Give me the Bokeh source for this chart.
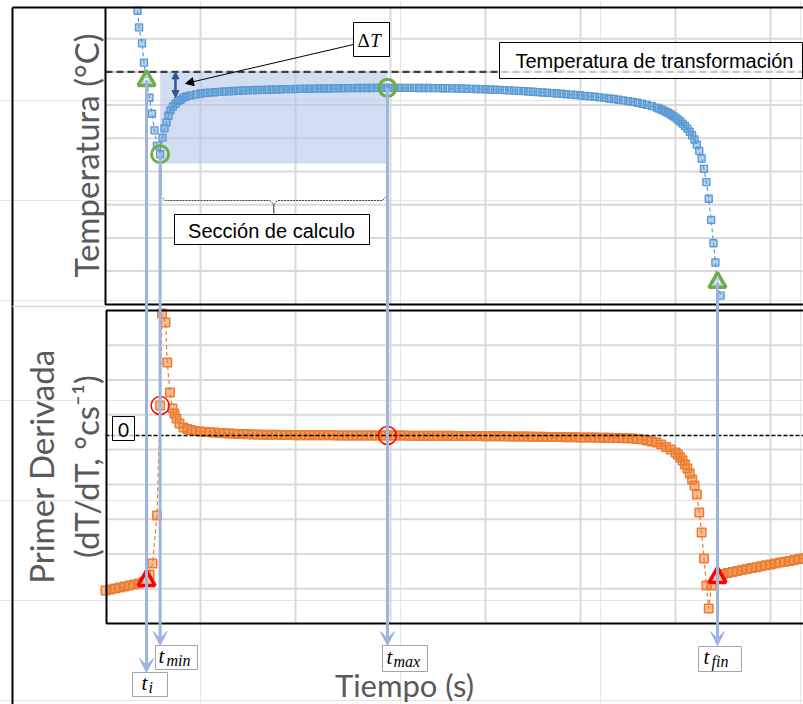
from math import pi
from bokeh.plotting import figure
from bokeh.models import Range1d, Label, Arrow, VeeHead, NormalHead
from bokeh.embed import file_html
from bokeh.resources import INLINE

# ---------------- data ----------------
tiempo_T = [3.37, 3.53, 3.84, 4.05, 4.32, 4.63, 4.89, 5.16, 5.42, 5.75,
            6.0, 6.21, 6.42, 6.63, 6.84, 7.1, 7.37, 7.63, 7.9, 8.2, 8.5, 8.95, 9.5,
            10.0, 10.5, 11.0, 11.5, 12.0, 12.5, 13.0, 13.5, 14.0, 14.5, 15.0, 15.5,
            16.0, 16.5, 17.0, 17.5, 18.0, 18.5, 19.0, 19.5, 20.0, 20.5, 21.0, 21.5,
            22.0, 22.5, 23.0, 23.5, 24.0, 24.5, 25.0, 25.5, 26.0, 26.5, 27.0, 27.5,
            28.0, 28.5, 29.0, 29.5, 30.0, 30.5, 31.0, 31.5, 32.0, 32.5, 33.0, 33.5,
            34.0, 34.5, 35.0, 35.5, 36.0, 36.5, 37.0, 37.5, 38.0, 38.5, 39.0, 39.5,
            40.0, 40.5, 41.0, 41.5, 42.0, 42.5, 43.0, 43.5, 44.0, 44.5, 45.0, 45.5,
            46.0, 46.5, 47.0, 47.5, 48.0, 48.5, 49.0, 49.5, 50.0, 50.5, 51.0, 51.5,
            52.0, 52.5, 53.0, 53.5, 54.0, 54.5, 55.0, 55.5, 56.0, 56.5, 57.0, 57.5,
            58.0, 58.25, 58.5, 58.75, 59.0, 59.25, 59.5, 59.75, 60.0, 60.25, 60.5,
            60.75, 61.0, 61.25, 61.5, 61.75, 62.0, 62.25, 62.5, 62.75, 63.0, 63.25,
            63.5, 63.75, 64.0, 64.2, 64.42, 64.75]
temperatura = [584.2, 581.7, 579.3, 576.4, 573.7, 571.1, 568.7, 566.2, 563.9, 562.6,
               565.1, 566.5, 567.4, 568.4, 569.2, 569.8, 570.2, 570.6, 570.8, 571.1, 571.3, 571.45, 571.6,
               571.75, 571.82, 571.88, 571.94, 571.99, 572.04, 572.08, 572.12, 572.16, 572.19, 572.22, 572.25,
               572.28, 572.30, 572.32, 572.34, 572.36, 572.38, 572.40, 572.41, 572.43, 572.44, 572.46, 572.47,
               572.48, 572.49, 572.50, 572.51, 572.52, 572.53, 572.54, 572.55, 572.56, 572.57, 572.57, 572.58,
               572.58, 572.59, 572.59, 572.60, 572.60, 572.60, 572.60, 572.60, 572.59, 572.59, 572.58, 572.58,
               572.57, 572.56, 572.55, 572.54, 572.53, 572.52, 572.50, 572.49, 572.47, 572.45, 572.43, 572.41,
               572.38, 572.35, 572.32, 572.29, 572.26, 572.22, 572.18, 572.14, 572.10, 572.05, 572.00, 571.95,
               571.90, 571.85, 571.80, 571.75, 571.70, 571.64, 571.58, 571.52, 571.46, 571.39, 571.32, 571.25,
               571.17, 571.09, 571.00, 570.91, 570.81, 570.71, 570.60, 570.48, 570.35, 570.20, 570.03, 569.84,
               569.62, 569.48, 569.33, 569.17, 568.99, 568.80, 568.59, 568.36, 568.11, 567.84, 567.54,
               567.21, 566.85, 566.45, 565.98, 565.45, 564.82, 564.05, 563.10, 561.95, 560.40, 558.40,
               555.90, 552.70, 549.20, 546.30, 543.30, 541.30]

tiempo_D = [0.0, 0.5, 1.0, 1.5, 2.0, 2.5, 3.0, 3.5, 4.0, 4.32, 4.63, 4.95, 5.42, 5.75,
            5.95, 6.32, 6.5, 6.79, 7.05, 7.26, 7.47, 7.79, 8.2, 8.6, 9.0, 9.5,
            10.0, 10.5, 11.0, 11.5, 12.0, 12.5, 13.0, 13.5, 14.0, 14.5, 15.0, 15.5,
            16.0, 16.5, 17.0, 17.5, 18.0, 18.5, 19.0, 19.5, 20.0, 20.5, 21.0, 21.5,
            22.0, 22.5, 23.0, 23.5, 24.0, 24.5, 25.0, 25.5, 26.0, 26.5, 27.0, 27.5,
            28.0, 28.5, 29.0, 29.5, 30.0, 30.5, 31.0, 31.5, 32.0, 32.5, 33.0, 33.5,
            34.0, 34.5, 35.0, 35.5, 36.0, 36.5, 37.0, 37.5, 38.0, 38.5, 39.0, 39.5,
            40.0, 40.5, 41.0, 41.5, 42.0, 42.5, 43.0, 43.5, 44.0, 44.5, 45.0, 45.5,
            46.0, 46.5, 47.0, 47.5, 48.0, 48.5, 49.0, 49.5, 50.0, 50.5, 51.0, 51.5,
            52.0, 52.5, 53.0, 53.5, 54.0, 54.5, 55.0, 55.5,
            56.0, 56.5, 57.0, 57.5, 58.0, 58.5, 59.0, 59.5, 60.0, 60.25, 60.5, 60.75,
            61.0, 61.25, 61.5, 61.75, 62.0, 62.25, 62.5, 62.75, 63.0, 63.25, 63.5, 63.8,
            64.42, 64.75, 65.0, 65.5, 66.0, 66.5, 67.0, 67.5, 68.0, 68.5, 69.0, 69.5,
            70.0, 70.5, 71.0, 71.5, 72.0, 72.5, 73.0, 73.5]
derivada = [-2.228, -2.214, -2.200, -2.185, -2.171, -2.156, -2.142, -2.128, -2.106, -2.085,
            -1.998, -1.840, -1.150, 0.431, 1.754, 1.625, 1.049, 0.618, 0.388, 0.316, 0.244,
            0.173, 0.115, 0.093, 0.079, 0.065,
            0.058, 0.052, 0.046, 0.042, 0.037, 0.033, 0.029, 0.026, 0.023, 0.020, 0.018, 0.016,
            0.014, 0.012, 0.011, 0.010, 0.009, 0.008, 0.007, 0.006, 0.005, 0.005, 0.004, 0.004,
            0.003, 0.003, 0.002, 0.002, 0.002, 0.001, 0.001, 0.001, 0.001, 0.000, 0.000, 0.000,
            0.000, 0.000, 0.000, 0.000, 0.000, -0.001, -0.001, -0.001, -0.002, -0.002, -0.002, -0.003,
            -0.003, -0.003, -0.004, -0.004, -0.005, -0.005, -0.006, -0.006, -0.007, -0.007, -0.008, -0.008,
            -0.009, -0.010, -0.010, -0.011, -0.012, -0.013, -0.013, -0.014, -0.015, -0.016, -0.017, -0.018,
            -0.019, -0.020, -0.021, -0.022, -0.023, -0.024, -0.025, -0.026, -0.027, -0.028, -0.029, -0.030,
            -0.031, -0.032, -0.034, -0.035, -0.037, -0.039, -0.041, -0.044,
            -0.050, -0.058, -0.072, -0.086, -0.101, -0.129, -0.165, -0.201, -0.244, -0.273, -0.316, -0.359,
            -0.417, -0.474, -0.546, -0.633, -0.719, -0.848, -1.107, -1.395, -1.768, -2.156, -2.487, -2.156,
            -2.041, -1.998, -1.991, -1.977, -1.962, -1.948, -1.934, -1.919, -1.906, -1.893, -1.880, -1.867,
            -1.855, -1.841, -1.826, -1.816, -1.803, -1.790, -1.777, -1.764]

# key points: t_i, t_min, t_max, t_fin
t_clave = [4.32, 5.75, 29.68, 64.42]
T_clave = [573.7, 562.6, 572.6, 543.3]
D_clave = [-2.085, 0.431, 0.0, -2.041]
subindices = ["i", "min", "max", "fin"]
T_transformacion = 575.0
rejilla_t = [10, 20, 30, 40, 50, 60, 70]
rejilla_T = [545, 550, 555, 560, 565, 570, 575, 580]

# ---------------- layout ----------------
W, H = 803, 704
X0, S_PX = 105.0, 9.5            # px of t=0, px per second
T_REF, T_REF_PY, T_PX = 585.0, 5.0, 5.0 / 33.2
D_ZERO_PY, D_PX = 435.0, 0.5 / 34.78
TOP_TOP, TOP_BOT = 7, 304
BOT_TOP, BOT_BOT = 310, 623
PL = 105

def px(t):
    return X0 + t * S_PX

def pyT(T):
    return T_REF_PY + (T_REF - T) / T_PX

AZUL, NARANJA, VERDE, ROJO = "#5b9bd5", "#ed7d31", "#70ad47", "#ff0000"
GRID, LB, GRIS = "#d9d9d9", "#9db4dd", "#595959"

p = figure(width=W, height=H, x_range=Range1d(0, W), y_range=Range1d(H, 0),
           output_backend="svg", toolbar_location=None, min_border=0,
           x_axis_location=None, y_axis_location=None, outline_line_color=None)
p.background_fill_color = "white"
p.border_fill_color = "white"
p.extra_x_ranges = {"t": Range1d(-X0 / S_PX, (W - X0) / S_PX)}
p.extra_y_ranges = {"temp": Range1d(T_REF - (H - T_REF_PY) * T_PX, T_REF + T_REF_PY * T_PX),
                    "der": Range1d(-(H - D_ZERO_PY) * D_PX, D_ZERO_PY * D_PX)}

# grids
n = len(rejilla_t)
p.segment(x0=rejilla_t, x1=rejilla_t, y0=[TOP_TOP] * n, y1=[TOP_BOT] * n,
          x_range_name="t", line_color=GRID, line_width=2)
p.segment(x0=rejilla_t, x1=rejilla_t, y0=[BOT_TOP] * n, y1=[BOT_BOT] * n,
          x_range_name="t", line_color=GRID, line_width=2)
m = len(rejilla_T)
p.segment(x0=[PL] * m, x1=[W] * m, y0=rejilla_T, y1=rejilla_T, y_range_name="temp",
          line_color=GRID, line_width=2)
ys_b = [BOT_TOP + k * (BOT_BOT - BOT_TOP) / 9 for k in range(1, 9)]
p.segment(x0=[PL] * 8, x1=[W] * 8, y0=ys_b, y1=ys_b, line_color=GRID, line_width=2)

# shaded calculation section
p.quad(left=[t_clave[1]], right=[t_clave[2]], top=[T_transformacion], bottom=[T_clave[1] - 1.4],
       x_range_name="t", y_range_name="temp", fill_color="#b4c7e7", fill_alpha=0.6, line_color=None)

# series
p.line(tiempo_T, temperatura, x_range_name="t", y_range_name="temp",
       line_color=AZUL, line_width=1.2, line_dash="4 3")
p.scatter(tiempo_T, temperatura, x_range_name="t", y_range_name="temp", marker="square",
          size=7, line_color=AZUL, line_width=1.4, fill_color=AZUL, fill_alpha=0.45)
p.line(tiempo_D, derivada, x_range_name="t", y_range_name="der",
       line_color=NARANJA, line_width=1.2, line_dash="4 3")
p.scatter(tiempo_D, derivada, x_range_name="t", y_range_name="der", marker="square",
          size=8.5, line_color=NARANJA, line_width=1.5, fill_color=NARANJA, fill_alpha=0.5)

# reference lines
p.segment(x0=[PL], x1=[W], y0=[T_transformacion], y1=[T_transformacion], y_range_name="temp",
          line_color="#404040", line_width=2.2, line_dash="7 4")
p.segment(x0=[PL], x1=[W], y0=[0], y1=[0], y_range_name="der",
          line_color="black", line_width=1.5, line_dash="4 2")

# frames
p.multi_line(xs=[[12, 12], [12, W], [PL, PL, W], [W, PL + 1, PL + 1, W]],
             ys=[[H, 7], [7, 7], [TOP_TOP, TOP_BOT, TOP_BOT], [BOT_TOP, BOT_TOP, BOT_BOT, BOT_BOT]],
             line_color="black", line_width=2)
p.multi_line(xs=[[12, PL]], ys=[[306, 306]], line_color=GRID, line_width=1.5)

# brace under the shaded section
xl, xr = px(t_clave[1]) + 1, px(t_clave[2]) - 1
xm = (xl + xr) / 2
p.multi_line(xs=[[xl, xl, xl + 4, xm - 4, xm, xm], [xm, xm, xm + 4, xr - 4, xr, xr]],
             ys=[[165, 196, 200, 200, 204, 213], [213, 204, 200, 200, 196, 165]],
             line_color="#404040", line_width=1, line_dash="2 1")

# vertical time arrows
ends = [672, 645, 645, 645]
for k in range(4):
    p.add_layout(Arrow(x_start=px(t_clave[k]), y_start=pyT(T_clave[k]),
                       x_end=px(t_clave[k]), y_end=ends[k],
                       line_color=LB, line_width=3,
                       end=VeeHead(size=14, fill_color=LB, line_color=LB, line_width=1)))

# key markers
tri = [0, 3]
cir = [1, 2]
p.scatter([t_clave[i] for i in tri], [T_clave[i] for i in tri], x_range_name="t", y_range_name="temp",
          marker="triangle", size=17, line_color=VERDE, line_width=3.5, fill_color="white", fill_alpha=0.5)
p.scatter([t_clave[i] for i in cir], [T_clave[i] for i in cir], x_range_name="t", y_range_name="temp",
          marker="circle", size=17, line_color=VERDE, line_width=3, fill_alpha=0)
p.scatter([t_clave[i] for i in tri], [D_clave[i] for i in tri], x_range_name="t", y_range_name="der",
          marker="triangle", size=17, line_color=ROJO, line_width=3.5, fill_color="white", fill_alpha=0.4)
p.scatter([t_clave[i] for i in cir], [D_clave[i] for i in cir], x_range_name="t", y_range_name="der",
          marker="circle", size=18, line_color=ROJO, line_width=1.5, fill_alpha=0)

# delta T arrows
p.add_layout(Arrow(x_start=175, y_start=pyT(T_transformacion), x_end=175, y_end=97,
                   line_color="#2f5597", line_width=2.5,
                   start=NormalHead(size=7, fill_color="#2f5597", line_color="#2f5597"),
                   end=NormalHead(size=7, fill_color="#2f5597", line_color="#2f5597")))
p.add_layout(Arrow(x_start=353, y_start=44, x_end=185, y_end=83, line_color="black", line_width=1,
                   end=NormalHead(size=8, fill_color="black", line_color="black")))

# boxes
def caja(l, r, t, b, borde="black", alpha=1.0):
    p.quad(left=[l], right=[r], top=[t], bottom=[b], fill_color="white", fill_alpha=alpha,
           line_color=borde, line_width=1)

caja(353, 389, 22, 56)
caja(499, 802, 42, 78, alpha=0.7)
caja(174, 369, 214, 244)
caja(112, 134, 416, 440, alpha=0.7)
cajas_t = [(132, 167, 672, 696), (155, 197, 645, 669), (382, 427, 645, 671), (698, 741, 646, 671)]
for (l, r, t, b) in cajas_t:
    caja(l, r, t, b, borde="#a6a6a6")

def lab(x, y, text, size, font="Liberation Sans", color="black", align="center",
        baseline="middle", style="normal", angle=0):
    p.add_layout(Label(x=x, y=y, text=text, text_font=font, text_font_size=size,
                       text_color=color, text_align=align, text_baseline=baseline,
                       text_font_style=style, angle=angle))

lab(363, 40, "Δ", "19px", font="Liberation Serif")
lab(375, 40, "T", "19px", font="Liberation Serif", style="italic")
lab(515, 60, "Temperatura de transformación", "20px", align="left")
lab(271, 230, "Sección de calculo", "20px")
lab(123, 429, "0", "19px", font="Lato")

t_pos = [(141, 148, 682), (158, 166, 655), (386, 393, 656), (703, 711, 656)]
for (xt, xs, ym), sub in zip(t_pos, subindices):
    lab(xt, ym, "t", "21px", font="Liberation Serif", style="italic", align="left")
    lab(xs, ym + 5, sub, "16px", font="Liberation Serif", style="italic", align="left")

# axis titles
lab(85, 155, "Temperatura (°C)", "33px", font="Lato", color=GRIS, angle=pi / 2)
lab(40, 466, "Primer Derivada", "33px", font="Lato", color=GRIS, angle=pi / 2)
lab(85, 466, "(dT/dT, °cs⁻¹)", "33px", font="Lato", color=GRIS, angle=pi / 2)
lab(404, 684, "Tiempo (s)", "31px", font="Lato", color=GRIS)

open("out.html", "w").write(file_html(p, INLINE))
